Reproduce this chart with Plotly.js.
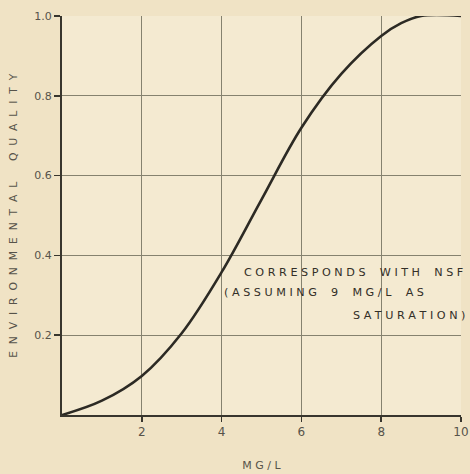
<!DOCTYPE html>
<html>
<head>
<meta charset="utf-8">
<script src="https://cdn.plot.ly/plotly-3.0.1.min.js"></script>
<style>html,body{margin:0;padding:0;background:#f0e3c5;}</style>
</head>
<body>
<div id="chart" style="width:470px;height:474px;"></div>
<script>
// Dissolved oxygen (MG/L) vs environmental quality
const doMgL   = [0, 1, 2, 3, 4, 5, 6, 7, 8, 8.5, 9, 10];
const quality = [0, 0.036, 0.098, 0.205, 0.358, 0.54, 0.72, 0.855, 0.95, 0.982, 1.0, 1.0];
const xTicks = [2, 4, 6, 8, 10];
const xTickText = ['2', '4', '6', '8', '10'];
const yTicks = [0.2, 0.4, 0.6, 0.8, 1.0];
const yTickText = ['0.2', '0.4', '0.6', '0.8', '1.0'];
const xTitle = 'MG/L';
const yTitle = 'ENVIRONMENTAL QUALITY';
const noteLines = ['CORRESPONDS WITH NSF', '(ASSUMING 9 MG/L AS', 'SATURATION)'];

const NB = '\u00A0';
function spaced(s, letterGap, wordGap) {
  return s.split(' ').map(w => w.split('').join(NB.repeat(letterGap))).join(NB.repeat(wordGap));
}

const ink = '#2c2a24';
const gridCol = '#85826f';
const axisCol = '#38362e';
const labelCol = '#57534a';
const noteCol = '#332f28';

const trace = {
  x: doMgL, y: quality, type: 'scatter', mode: 'lines',
  line: {color: ink, width: 2.6, shape: 'spline', smoothing: 1},
  hoverinfo: 'skip', cliponaxis: false
};

const layout = {
  width: 470, height: 474,
  margin: {l: 62, r: 9, t: 16, b: 59},
  paper_bgcolor: '#f0e3c5',
  plot_bgcolor: '#f4ead1',
  showlegend: false,
  font: {family: 'DejaVu Sans, sans-serif', color: labelCol, size: 10},
  xaxis: {
    range: [0, 10], tickvals: xTicks, ticktext: xTickText,
    showgrid: true, gridcolor: gridCol, gridwidth: 1.2,
    showline: true, linecolor: axisCol, linewidth: 2,
    ticks: 'outside', ticklen: 5, tickcolor: axisCol, tickwidth: 1.5,
    tickfont: {size: 12, color: labelCol},
    zeroline: false, fixedrange: true,
    title: {text: spaced(xTitle, 1, 2), font: {size: 11, color: labelCol}, standoff: 23}
  },
  yaxis: {
    range: [0, 1], tickvals: yTicks, ticktext: yTickText,
    showgrid: true, gridcolor: gridCol, gridwidth: 1.2,
    showline: true, linecolor: axisCol, linewidth: 2,
    ticks: 'outside', ticklen: 6, tickcolor: axisCol, tickwidth: 1.5,
    tickfont: {size: 11, color: labelCol},
    zeroline: false, fixedrange: true
  },
  annotations: [
    {xref: 'paper', yref: 'paper', x: -0.122, y: 0.5, xanchor: 'center', yanchor: 'middle',
     textangle: -90, showarrow: false,
     text: spaced(yTitle, 2, 6), font: {size: 10.8, color: labelCol}},
    {xref: 'x', yref: 'y', x: 4.5, y: 0.358, xanchor: 'left', yanchor: 'middle', showarrow: false,
     text: spaced(noteLines[0], 1, 4), font: {size: 11.2, color: noteCol}},
    {xref: 'x', yref: 'y', x: 4.02, y: 0.306, xanchor: 'left', yanchor: 'middle', showarrow: false,
     text: spaced(noteLines[1], 1, 4), font: {size: 11.2, color: noteCol}},
    {xref: 'paper', yref: 'y', x: 1.015, y: 0.25, xanchor: 'right', yanchor: 'middle', showarrow: false,
     text: spaced(noteLines[2], 1, 4), font: {size: 11.2, color: noteCol}}
  ]
};

Plotly.newPlot('chart', [trace], layout, {staticPlot: true, displayModeBar: false});
</script>
</body>
</html>
